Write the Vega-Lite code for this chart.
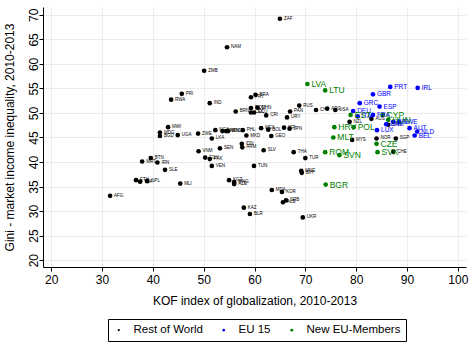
{
  "$schema": "https://vega.github.io/schema/vega-lite/v6.json",
  "width": 423,
  "height": 260,
  "autosize": {"type": "none"},
  "padding": {"left": 43, "top": 7, "right": 6, "bottom": 77},
  "background": "white",
  "config": {
    "font": "Liberation Sans",
    "view": {"stroke": null},
    "axis": {
      "domainColor": "black",
      "tickColor": "black",
      "tickSize": 4,
      "gridColor": "#ececec",
      "gridWidth": 1,
      "labelFontSize": 12,
      "titleFontSize": 12,
      "labelColor": "black",
      "titleColor": "black",
      "titleFontWeight": "normal",
      "labelFont": "Liberation Sans",
      "titleFont": "Liberation Sans"
    }
  },
  "data": {
    "values": [
      {"c": "ZAF", "x": 65.0, "y": 69.2, "g": "Rest of World"},
      {"c": "NAM", "x": 54.6, "y": 63.4, "g": "Rest of World"},
      {"c": "ZMB", "x": 50.1, "y": 58.6, "g": "Rest of World"},
      {"c": "PRI", "x": 45.7, "y": 53.9, "g": "Rest of World"},
      {"c": "RWA", "x": 43.6, "y": 52.7, "g": "Rest of World"},
      {"c": "IND", "x": 51.2, "y": 52.0, "g": "Rest of World"},
      {"c": "BRA", "x": 60.2, "y": 53.7, "g": "Rest of World"},
      {"c": "PRY", "x": 59.3, "y": 53.2, "g": "Rest of World"},
      {"c": "RUS", "x": 68.8, "y": 51.5, "g": "Rest of World"},
      {"c": "PAN", "x": 67.0, "y": 50.3, "g": "Rest of World"},
      {"c": "URY", "x": 66.4, "y": 49.1, "g": "Rest of World"},
      {"c": "CRI", "x": 62.3, "y": 49.5, "g": "Rest of World"},
      {"c": "BRN", "x": 56.3, "y": 50.3, "g": "Rest of World"},
      {"c": "DOM", "x": 59.3, "y": 51.0, "g": "Rest of World"},
      {"c": "CHN", "x": 60.6, "y": 51.1, "g": "Rest of World"},
      {"c": "COL", "x": 59.3, "y": 50.1, "g": "Rest of World"},
      {"c": "ECU", "x": 59.9, "y": 50.1, "g": "Rest of World"},
      {"c": "MWI", "x": 43.0, "y": 47.1, "g": "Rest of World"},
      {"c": "MDG", "x": 41.4, "y": 46.0, "g": "Rest of World"},
      {"c": "BGD", "x": 41.4, "y": 45.3, "g": "Rest of World"},
      {"c": "UGA", "x": 44.9, "y": 45.5, "g": "Rest of World"},
      {"c": "ZWE", "x": 48.9, "y": 45.8, "g": "Rest of World"},
      {"c": "NGA", "x": 52.3, "y": 46.5, "g": "Rest of World"},
      {"c": "CIV", "x": 53.7, "y": 46.3, "g": "Rest of World"},
      {"c": "KEN", "x": 54.4, "y": 46.3, "g": "Rest of World"},
      {"c": "HND", "x": 54.8, "y": 46.3, "g": "Rest of World"},
      {"c": "PHL", "x": 57.7, "y": 46.5, "g": "Rest of World"},
      {"c": "MKD", "x": 58.4, "y": 45.4, "g": "Rest of World"},
      {"c": "LKA", "x": 51.6, "y": 44.8, "g": "Rest of World"},
      {"c": "MEX", "x": 61.3, "y": 46.9, "g": "Rest of World"},
      {"c": "BOL", "x": 62.7, "y": 46.6, "g": "Rest of World"},
      {"c": "GEO", "x": 63.3, "y": 45.3, "g": "Rest of World"},
      {"c": "ISR", "x": 65.8, "y": 47.0, "g": "Rest of World"},
      {"c": "JPN", "x": 66.9, "y": 46.8, "g": "Rest of World"},
      {"c": "VNM", "x": 49.0, "y": 42.2, "g": "Rest of World"},
      {"c": "SEN", "x": 53.2, "y": 42.8, "g": "Rest of World"},
      {"c": "IDN", "x": 57.5, "y": 43.7, "g": "Rest of World"},
      {"c": "ARM", "x": 57.6, "y": 43.0, "g": "Rest of World"},
      {"c": "SLV", "x": 61.8, "y": 42.4, "g": "Rest of World"},
      {"c": "THA", "x": 67.7, "y": 42.0, "g": "Rest of World"},
      {"c": "TUR", "x": 70.0, "y": 40.8, "g": "Rest of World"},
      {"c": "EGY", "x": 50.3, "y": 40.9, "g": "Rest of World"},
      {"c": "PAK", "x": 51.2, "y": 40.6, "g": "Rest of World"},
      {"c": "VEN", "x": 51.6, "y": 39.2, "g": "Rest of World"},
      {"c": "TUN", "x": 59.9, "y": 39.2, "g": "Rest of World"},
      {"c": "MNE", "x": 69.2, "y": 38.2, "g": "Rest of World"},
      {"c": "BIH", "x": 69.3, "y": 37.8, "g": "Rest of World"},
      {"c": "SLE", "x": 42.4, "y": 38.4, "g": "Rest of World"},
      {"c": "MLI", "x": 45.4, "y": 35.6, "g": "Rest of World"},
      {"c": "KGZ", "x": 55.0, "y": 36.3, "g": "Rest of World"},
      {"c": "MNG", "x": 56.0, "y": 35.9, "g": "Rest of World"},
      {"c": "AZE", "x": 56.0, "y": 35.5, "g": "Rest of World"},
      {"c": "MDA", "x": 63.4, "y": 34.3, "g": "Rest of World"},
      {"c": "KOR", "x": 65.4, "y": 33.9, "g": "Rest of World"},
      {"c": "SRB", "x": 66.2, "y": 32.2, "g": "Rest of World"},
      {"c": "ALB", "x": 65.6, "y": 31.8, "g": "Rest of World"},
      {"c": "KAZ", "x": 57.9, "y": 30.7, "g": "Rest of World"},
      {"c": "BLR", "x": 59.1, "y": 29.4, "g": "Rest of World"},
      {"c": "UKR", "x": 69.5, "y": 28.7, "g": "Rest of World"},
      {"c": "BTN", "x": 39.6, "y": 40.8, "g": "Rest of World"},
      {"c": "MRT", "x": 37.9, "y": 40.1, "g": "Rest of World"},
      {"c": "IRN", "x": 40.9, "y": 39.9, "g": "Rest of World"},
      {"c": "ETH", "x": 36.7, "y": 36.3, "g": "Rest of World"},
      {"c": "TZA", "x": 37.5, "y": 36.0, "g": "Rest of World"},
      {"c": "NPL", "x": 38.9, "y": 36.1, "g": "Rest of World"},
      {"c": "AFG", "x": 31.6, "y": 33.1, "g": "Rest of World"},
      {"c": "CHL", "x": 72.1, "y": 50.6, "g": "Rest of World"},
      {"c": "ARG", "x": 74.3, "y": 50.9, "g": "Rest of World"},
      {"c": "USA", "x": 75.9, "y": 50.6, "g": "Rest of World"},
      {"c": "NZL", "x": 78.7, "y": 48.2, "g": "Rest of World"},
      {"c": "AUS", "x": 83.0, "y": 48.8, "g": "Rest of World"},
      {"c": "CAN", "x": 86.3, "y": 47.6, "g": "Rest of World"},
      {"c": "MYS", "x": 79.2, "y": 44.5, "g": "Rest of World"},
      {"c": "NOR", "x": 84.0, "y": 44.8, "g": "Rest of World"},
      {"c": "SGP", "x": 87.8, "y": 44.8, "g": "Rest of World"},
      {"c": "CHE", "x": 87.3, "y": 42.1, "g": "Rest of World"},
      {"c": "PRT", "x": 86.7, "y": 55.3, "g": "EU 15"},
      {"c": "IRL", "x": 92.1, "y": 55.1, "g": "EU 15"},
      {"c": "GBR", "x": 83.3, "y": 53.8, "g": "EU 15"},
      {"c": "GRC", "x": 80.7, "y": 52.0, "g": "EU 15"},
      {"c": "ESP", "x": 84.6, "y": 51.3, "g": "EU 15"},
      {"c": "DEU", "x": 79.4, "y": 50.4, "g": "EU 15"},
      {"c": "ITA", "x": 80.3, "y": 49.3, "g": "EU 15"},
      {"c": "FRA", "x": 83.3, "y": 49.6, "g": "EU 15"},
      {"c": "FIN", "x": 87.3, "y": 48.2, "g": "EU 15"},
      {"c": "DNK", "x": 85.9, "y": 47.7, "g": "EU 15"},
      {"c": "SWE", "x": 88.4, "y": 48.2, "g": "EU 15"},
      {"c": "LUX", "x": 84.1, "y": 46.5, "g": "EU 15"},
      {"c": "AUT", "x": 90.5, "y": 46.9, "g": "EU 15"},
      {"c": "NLD", "x": 92.0, "y": 46.2, "g": "EU 15"},
      {"c": "BEL", "x": 91.5, "y": 45.4, "g": "EU 15"},
      {"c": "LVA", "x": 70.4, "y": 55.9, "g": "New EU-Members"},
      {"c": "LTU", "x": 73.9, "y": 54.6, "g": "New EU-Members"},
      {"c": "EST", "x": 78.9, "y": 49.6, "g": "New EU-Members"},
      {"c": "CYP", "x": 85.2, "y": 49.6, "g": "New EU-Members"},
      {"c": "HUN", "x": 86.3, "y": 48.6, "g": "New EU-Members"},
      {"c": "HRV", "x": 75.7, "y": 47.1, "g": "New EU-Members"},
      {"c": "POL", "x": 79.5, "y": 47.1, "g": "New EU-Members"},
      {"c": "MLT", "x": 75.5, "y": 45.0, "g": "New EU-Members"},
      {"c": "CZE", "x": 84.0, "y": 43.7, "g": "New EU-Members"},
      {"c": "SVK", "x": 84.2, "y": 42.0, "g": "New EU-Members"},
      {"c": "ROM", "x": 73.9, "y": 42.0, "g": "New EU-Members"},
      {"c": "SVN", "x": 76.7, "y": 41.4, "g": "New EU-Members"},
      {"c": "BGR", "x": 74.0, "y": 35.4, "g": "New EU-Members"}
    ]
  },
  "encoding": {
    "x": {
      "field": "x", "type": "quantitative",
      "scale": {"domain": [18.4, 101.6], "nice": false, "zero": false},
      "axis": {
        "title": "KOF index of globalization, 2010-2013",
        "values": [20, 30, 40, 50, 60, 70, 80, 90, 100],
        "labelPadding": 3,
        "titleY": 37,
        "titleBaseline": "alphabetic"
      }
    },
    "y": {
      "field": "y", "type": "quantitative",
      "scale": {"domain": [18.6, 71.6], "nice": false, "zero": false},
      "axis": {
        "title": "Gini - market income inequality, 2010-2013",
        "values": [20, 25, 30, 35, 40, 45, 50, 55, 60, 65, 70],
        "labelAngle": -90,
        "labelAlign": "center",
        "labelBaseline": "alphabetic",
        "labelPadding": 2,
        "titleX": -30,
        "titleBaseline": "alphabetic"
      }
    },
    "color": {
      "field": "g", "type": "nominal",
      "scale": {"domain": ["Rest of World", "EU 15", "New EU-Members"], "range": ["#000000", "#0000ff", "#008000"]}
    }
  },
  "layer": [
    {
      "mark": {"type": "point", "filled": true, "opacity": 1, "size": 22},
      "encoding": {
        "color": {
          "field": "g", "type": "nominal",
          "scale": {"domain": ["Rest of World", "EU 15", "New EU-Members"], "range": ["#000000", "#0000ff", "#008000"]},
          "legend": {
            "title": null,
            "orient": "none",
            "direction": "horizontal",
            "legendX": 65,
            "legendY": 312,
            "strokeColor": "black",
            "fillColor": "white",
            "padding": 5,
            "labelFontSize": 11.5,
            "labelFont": "Liberation Sans",
            "labelColor": "black",
            "symbolSize": 12,
            "symbolType": "circle",
            "labelOffset": 9,
            "columnPadding": 15
          }
        }
      }
    },
    {
      "mark": {"type": "text", "align": "left", "baseline": "middle", "dx": 4},
      "encoding": {
        "text": {"field": "c"},
        "size": {
          "field": "g", "type": "nominal",
          "scale": {"domain": ["Rest of World", "EU 15", "New EU-Members"], "range": [4.5, 8.5, 8.5]},
          "legend": null
        }
      }
    }
  ]
}
